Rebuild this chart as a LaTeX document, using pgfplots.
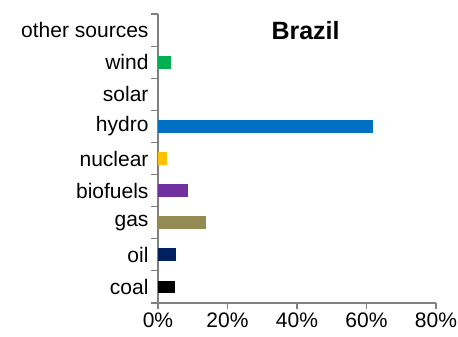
\documentclass[border=0pt]{standalone}
\usepackage{pgfplots}
\pgfplotsset{compat=1.18}
\usepackage{fontspec}
\setmainfont{Liberation Sans}
\definecolor{axisgray}{HTML}{808080}
\definecolor{cwind}{HTML}{00B050}
\definecolor{chydro}{HTML}{0070C0}
\definecolor{cnuclear}{HTML}{FFC000}
\definecolor{cbio}{HTML}{7030A0}
\definecolor{cgas}{HTML}{948A54}
\definecolor{coil}{HTML}{002060}
\definecolor{ccoal}{HTML}{000000}
\begin{document}
\begin{tikzpicture}
\useasboundingbox (-158pt,-34pt) rectangle (300pt,303pt);
\begin{axis}[
  at={(0,0)}, anchor=south west,
  scale only axis,
  width=278pt, height=289pt,
  xmin=0, xmax=80,
  ymin=-0.5, ymax=8.5,
  axis lines*=left,
  axis line style={draw=axisgray, line width=1.2pt},
  xtick={0,20,40,60,80},
  xticklabels={0\%,20\%,40\%,60\%,80\%},
  % names are moved up by half a category so that each faces its bar
  ytick={-0.5,0.5,...,8.5},
  yticklabels={coal,oil,gas,biofuels,nuclear,hydro,solar,wind,other sources,{}},
  yticklabel style={yshift=16.06pt, xshift=-6pt},
  major tick length=0pt,
  ticklabel style={font=\fontsize{21}{25}\selectfont, text=black},
  xticklabel style={yshift=-6pt},
  /pgf/number format/assume math mode=true,
  every axis plot/.append style={xbar, bar width=12.7pt, bar shift=0pt, draw=none},
  clip=false,
]
\addplot[fill=ccoal] coordinates {(4.9,0)};
\addplot[fill=coil] coordinates {(5.2,1)};
\addplot[fill=cgas] coordinates {(13.8,2)};
\addplot[fill=cbio] coordinates {(8.6,3)};
\addplot[fill=cnuclear] coordinates {(2.6,4)};
\addplot[fill=chydro] coordinates {(61.8,5)};
\addplot[fill=cwind] coordinates {(3.7,7)};
% outward tick marks on the category boundaries and under the x labels
\foreach \yb in {-0.5,0.5,1.5,2.5,3.5,4.5,5.5,6.5,7.5,8.5}{
  \edef\temp{\noexpand\draw[axisgray, line width=1.2pt]
    (axis cs:0,\yb) -- ([xshift=-7pt]axis cs:0,\yb);}
  \temp
}
\foreach \xb in {0,20,40,60,80}{
  \edef\temp{\noexpand\draw[axisgray, line width=1.2pt]
    (axis cs:\xb,-0.5) -- ([yshift=-6pt]axis cs:\xb,-0.5);}
  \temp
}
\node[font=\fontsize{25}{30}\selectfont\bfseries] at (rel axis cs:0.531,0.943) {Brazil};
\end{axis}
\end{tikzpicture}
\end{document}
